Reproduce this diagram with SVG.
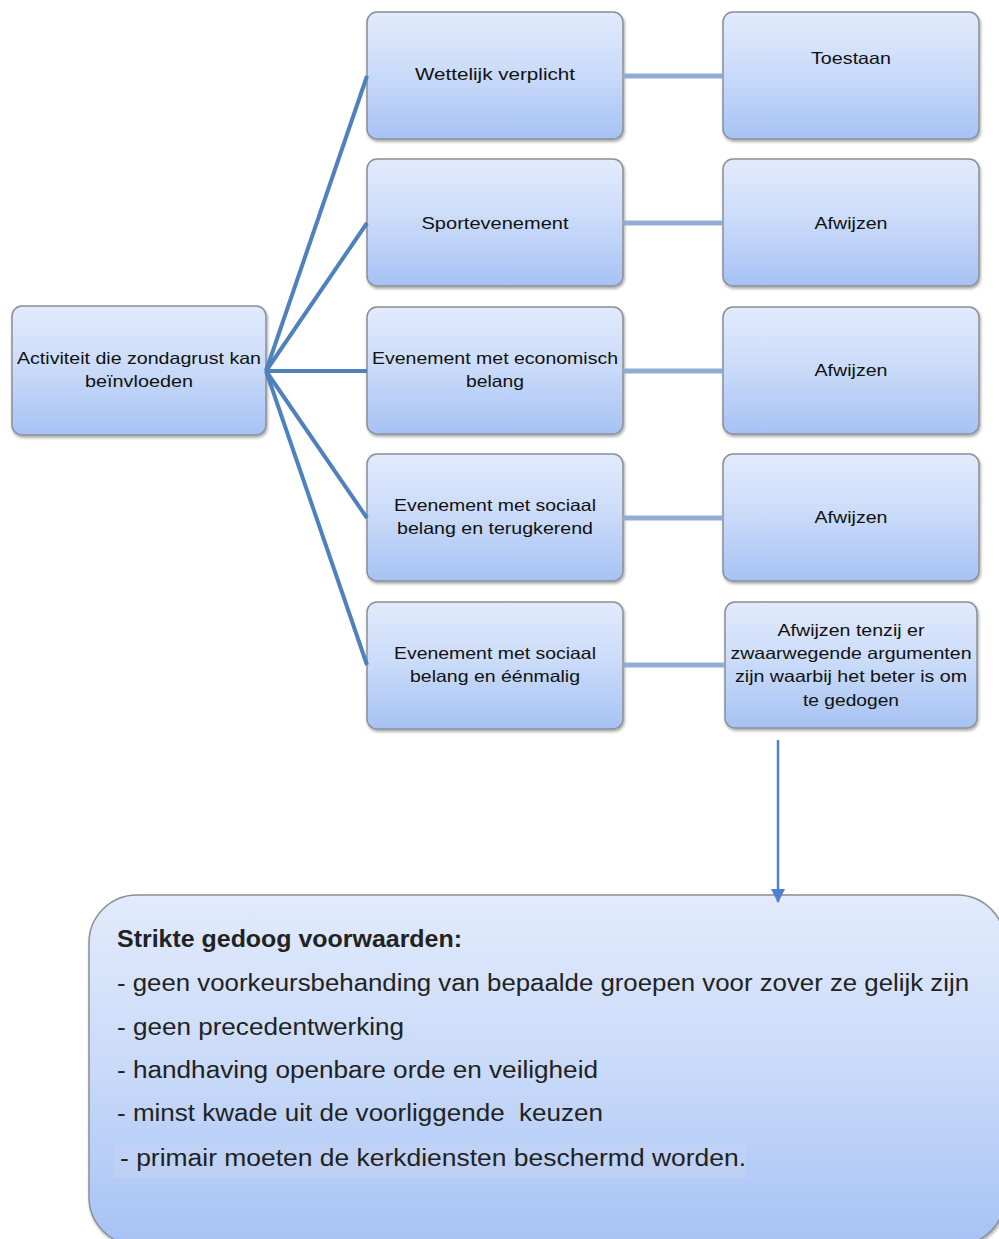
<svg xmlns="http://www.w3.org/2000/svg" width="999" height="1239" viewBox="0 0 999 1239">
<defs>
<linearGradient id="g" x1="0" y1="0" x2="0" y2="1">
<stop offset="0" stop-color="#e2ebfc"/>
<stop offset="0.5" stop-color="#c9daf9"/>
<stop offset="1" stop-color="#a6c2f4"/>
</linearGradient>
<filter id="sh" x="-10%" y="-10%" width="120%" height="130%">
<feDropShadow dx="1" dy="2" stdDeviation="1.5" flood-color="#000" flood-opacity="0.35"/>
</filter>
<marker id="ar2" viewBox="0 0 14 14" refX="13" refY="7" markerWidth="14" markerHeight="14" orient="auto" markerUnits="userSpaceOnUse">
<path d="M0,0 L14,7 L0,14 z" fill="#4f81d0"/>
</marker>
</defs>
<style>
.box{fill:url(#g);stroke:#8c8f96;stroke-width:1.5;filter:url(#sh)}
.t{font-family:"Liberation Sans",Arial,sans-serif;font-size:16.5px;fill:#111;text-anchor:middle}
.b{font-family:"Liberation Sans",Arial,sans-serif;font-size:23px;fill:#222}
.c1{stroke:#4f81bd;stroke-width:4;fill:none}
.c2{stroke:#93acd4;stroke-width:5;fill:none}
</style>
<rect width="999" height="1239" fill="#fff"/>
<g id="root">
<rect class="box" x="12" y="306" width="254" height="129" rx="10"/>
<text class="t" x="139" y="364" textLength="244" lengthAdjust="spacingAndGlyphs">Activiteit die zondagrust kan</text>
<text class="t" x="139" y="387" textLength="108" lengthAdjust="spacingAndGlyphs">beïnvloeden</text>
</g>
<g id="m1">
<rect class="box" x="367" y="12" width="256" height="127" rx="10"/>
<text class="t" x="495" y="80" textLength="160" lengthAdjust="spacingAndGlyphs">Wettelijk verplicht</text>
</g>
<g id="m2">
<rect class="box" x="367" y="159" width="256" height="127" rx="10"/>
<text class="t" x="495" y="229" textLength="147" lengthAdjust="spacingAndGlyphs">Sportevenement</text>
</g>
<g id="m3">
<rect class="box" x="367" y="307" width="256" height="127" rx="10"/>
<text class="t" x="495" y="364" textLength="246" lengthAdjust="spacingAndGlyphs">Evenement met economisch</text>
<text class="t" x="495" y="387" textLength="58" lengthAdjust="spacingAndGlyphs">belang</text>
</g>
<g id="m4">
<rect class="box" x="367" y="454" width="256" height="127" rx="10"/>
<text class="t" x="495" y="511" textLength="202" lengthAdjust="spacingAndGlyphs">Evenement met sociaal</text>
<text class="t" x="495" y="534" textLength="196" lengthAdjust="spacingAndGlyphs">belang en terugkerend</text>
</g>
<g id="m5">
<rect class="box" x="367" y="602" width="256" height="127" rx="10"/>
<text class="t" x="495" y="659" textLength="202" lengthAdjust="spacingAndGlyphs">Evenement met sociaal</text>
<text class="t" x="495" y="682" textLength="170" lengthAdjust="spacingAndGlyphs">belang en éénmalig</text>
</g>
<g id="r1">
<rect class="box" x="723" y="12" width="256" height="127" rx="10"/>
<text class="t" x="851" y="64" textLength="80" lengthAdjust="spacingAndGlyphs">Toestaan</text>
</g>
<g id="r2">
<rect class="box" x="723" y="159" width="256" height="127" rx="10"/>
<text class="t" x="851" y="229" textLength="73" lengthAdjust="spacingAndGlyphs">Afwijzen</text>
</g>
<g id="r3">
<rect class="box" x="723" y="307" width="256" height="127" rx="10"/>
<text class="t" x="851" y="376" textLength="73" lengthAdjust="spacingAndGlyphs">Afwijzen</text>
</g>
<g id="r4">
<rect class="box" x="723" y="454" width="256" height="127" rx="10"/>
<text class="t" x="851" y="523" textLength="73" lengthAdjust="spacingAndGlyphs">Afwijzen</text>
</g>
<g id="r5">
<rect class="box" x="725" y="602" width="252" height="126" rx="10"/>
<text class="t" x="851" y="636" textLength="147" lengthAdjust="spacingAndGlyphs">Afwijzen tenzij er</text>
<text class="t" x="851" y="659" textLength="241" lengthAdjust="spacingAndGlyphs">zwaarwegende argumenten</text>
<text class="t" x="851" y="682" textLength="232" lengthAdjust="spacingAndGlyphs">zijn waarbij het beter is om</text>
<text class="t" x="851" y="706" textLength="96" lengthAdjust="spacingAndGlyphs">te gedogen</text>
</g>
<g id="conditions">
<rect class="box" x="89" y="895" width="916" height="350" rx="48"/>
<rect x="114" y="1142" width="632" height="36" fill="#c2d3f3" opacity="0.7"/>
<text class="b" x="117" y="947" font-weight="bold" textLength="345" lengthAdjust="spacingAndGlyphs">Strikte gedoog voorwaarden:</text>
<text class="b" x="117" y="991" textLength="852" lengthAdjust="spacingAndGlyphs">- geen voorkeursbehanding van bepaalde groepen voor zover ze gelijk zijn</text>
<text class="b" x="117" y="1035" textLength="287" lengthAdjust="spacingAndGlyphs">- geen precedentwerking</text>
<text class="b" x="117" y="1078" textLength="481" lengthAdjust="spacingAndGlyphs">- handhaving openbare orde en veiligheid</text>
<text class="b" x="117" y="1121" textLength="486" lengthAdjust="spacingAndGlyphs" xml:space="preserve">- minst kwade uit de voorliggende  keuzen</text>
<text class="b" x="120" y="1166" textLength="626" lengthAdjust="spacingAndGlyphs">- primair moeten de kerkdiensten beschermd worden.</text>
</g>
<g id="connectors">
<line class="c1" x1="266" y1="371" x2="367" y2="76"/>
<line class="c1" x1="266" y1="371" x2="367" y2="223"/>
<line class="c1" x1="266" y1="371" x2="367" y2="371"/>
<line class="c1" x1="266" y1="371" x2="367" y2="518"/>
<line class="c1" x1="266" y1="371" x2="367" y2="665"/>
<line class="c2" x1="623" y1="76" x2="723" y2="76"/>
<line class="c2" x1="623" y1="223" x2="723" y2="223"/>
<line class="c2" x1="623" y1="371" x2="723" y2="371"/>
<line class="c2" x1="623" y1="518" x2="723" y2="518"/>
<line class="c2" x1="623" y1="665" x2="725" y2="665"/>
<line x1="778" y1="740" x2="778" y2="902" stroke="#4f81d0" stroke-width="2.5" marker-end="url(#ar2)"/>
</g>
</svg>
